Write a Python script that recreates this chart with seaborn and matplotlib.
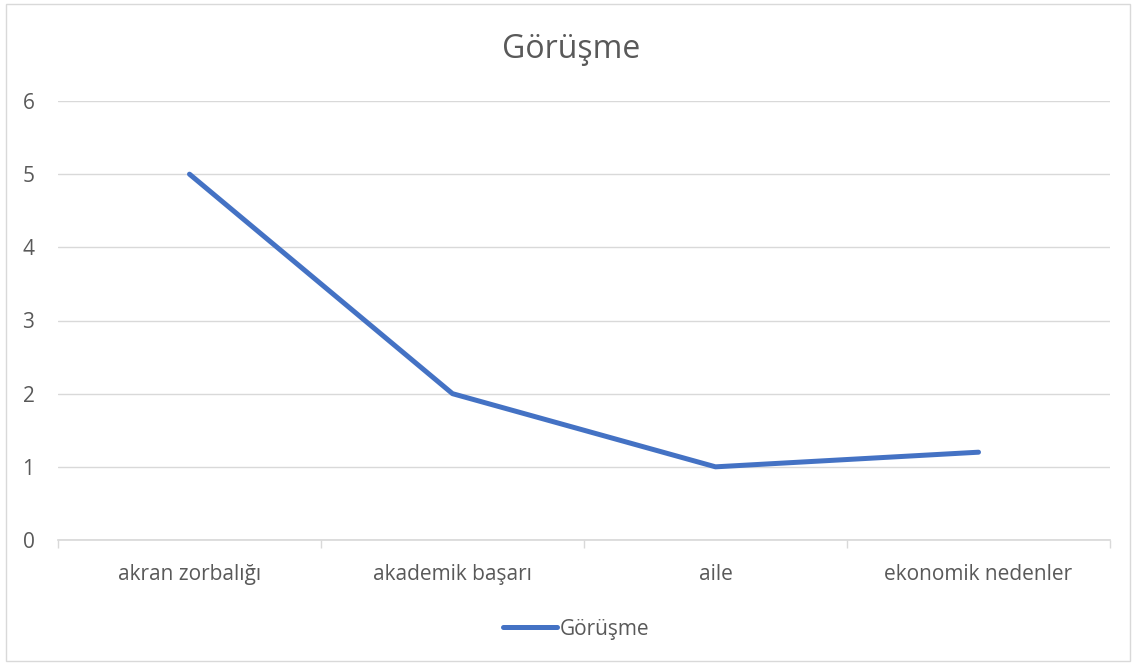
import matplotlib
matplotlib.use("Agg")
import matplotlib.pyplot as plt
import seaborn as sns
import pandas as pd
from matplotlib.patches import Rectangle

categories = ["akran zorbalığı", "akademik başarı", "aile", "ekonomik nedenler"]
values = [5, 2, 1, 1.2]
series_name = "Görüşme"
y_ticks = [0, 1, 2, 3, 4, 5, 6]

df = pd.DataFrame({"pos": range(len(categories)), "value": values, "series": series_name})

sns.set_theme(style="white")
plt.rcParams["font.family"] = ["Open Sans", "DejaVu Sans"]

fig = plt.figure(figsize=(11.34, 6.63), dpi=100)
ax = fig.add_axes([58 / 1134, 1 - 540 / 663, 1052 / 1134, 439 / 663])

sns.lineplot(data=df, x="pos", y="value", hue="series", palette=["#4472C4"],
             linewidth=3.6, ax=ax, solid_capstyle="round")

ax.set_xlim(-0.5, len(categories) - 0.5)
ax.set_ylim(0, 6)
ax.set_yticks(y_ticks)
ax.set_yticklabels([str(t) for t in y_ticks], color="#595959", fontsize=15)
ax.yaxis.grid(True, color="#D9D9D9", linewidth=1)
ax.set_axisbelow(True)

# category labels centered, tick marks on the category boundaries
ax.set_xticks([i - 0.5 for i in range(len(categories) + 1)])
ax.set_xticklabels([])
ax.set_xticks(range(len(categories)), minor=True)
ax.set_xticklabels(categories, minor=True, color="#595959", fontsize=15)
ax.tick_params(axis="x", which="major", direction="out", length=6, color="#D9D9D9", width=1, bottom=True)
ax.tick_params(axis="x", which="minor", length=0, pad=17)
ax.tick_params(axis="y", length=0, pad=17)

for side in ["top", "right", "left"]:
    ax.spines[side].set_visible(False)
ax.spines["bottom"].set_color("#D9D9D9")
ax.set_xlabel("")
ax.set_ylabel("")

fig.text(571 / 1134, 1 - 50 / 663, series_name, fontsize=23, color="#595959",
         ha="center", va="center")

leg = ax.legend(loc="center", bbox_to_anchor=(576 / 1134, 34 / 663),
                bbox_transform=fig.transFigure, frameon=False,
                fontsize=15, handlelength=2.6, handletextpad=0.1)
for t in leg.get_texts():
    t.set_color("#595959")
for h in leg.get_lines():
    h.set_linewidth(3.6)
    h.set_solid_capstyle("round")

fig.patches.append(Rectangle((6 / 1134, 2 / 663), 1124 / 1134, 657 / 663,
                             transform=fig.transFigure, fill=False,
                             edgecolor="#D9D9D9", linewidth=1))

fig.savefig("out.png", dpi=100)
